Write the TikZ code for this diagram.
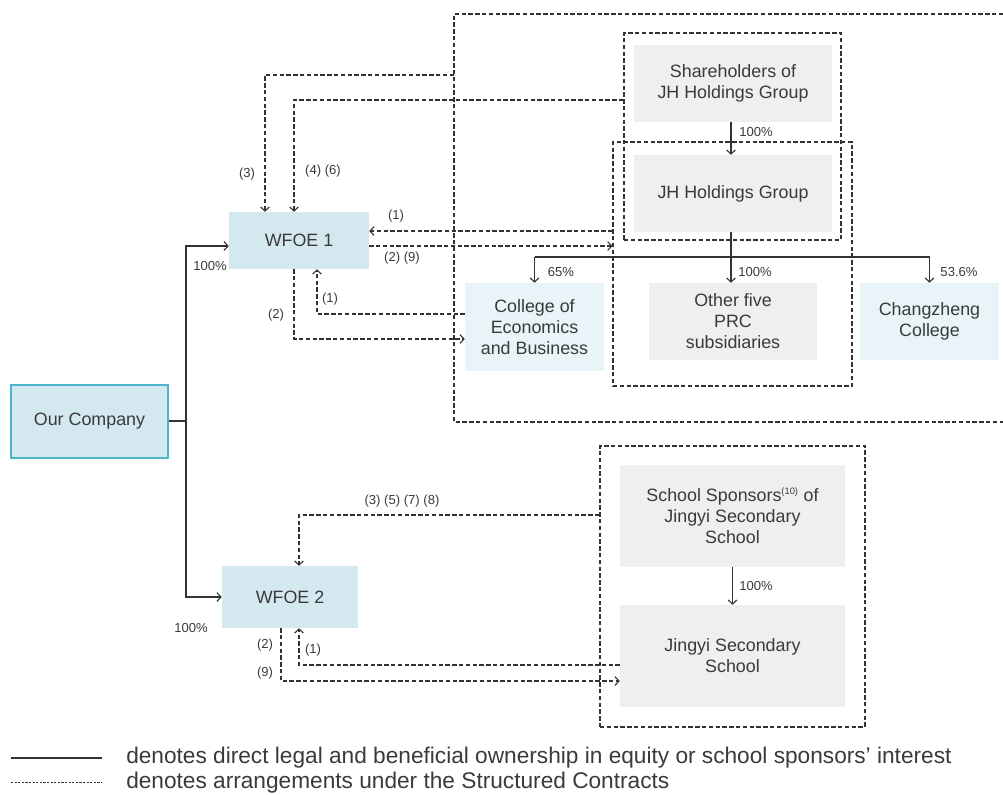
\documentclass[tikz,border=0pt]{standalone}
\usepackage{fontspec}
\setmainfont{Liberation Sans}
\usetikzlibrary{arrows.meta}
\definecolor{txt}{HTML}{3A3A3A}
\definecolor{ln}{HTML}{333333}
\definecolor{blueA}{HTML}{D3E9EF}
\definecolor{blueB}{HTML}{E8F4F8}
\definecolor{greyA}{HTML}{EFEFEF}
\definecolor{edgeA}{HTML}{4DB5CD}
\tikzset{
  every node/.style={text=txt},
  boxtext/.style={font=\fontsize{13.4}{15.8}\selectfont, align=center, inner sep=0pt, draw=none},
  wfoebox/.style={boxtext, fill=blueA},
  lightbox/.style={boxtext, fill=blueB},
  greybox/.style={boxtext, fill=greyA},
  dashbox/.style={draw=ln, line width=0.85pt, dash pattern=on 3.3pt off 1.8pt, inner sep=0pt, fill=none},
  own/.style={draw=ln, line width=0.85pt},
  ctr/.style={draw=ln, line width=0.85pt, dash pattern=on 3.3pt off 1.8pt},
  arr/.style={-{Straight Barb[length=3pt,width=6.5pt,line width=0.85pt]}},
  lbl/.style={font=\fontsize{9.8}{11}\selectfont, inner sep=0pt},
  legtext/.style={font=\fontsize{17}{20}\selectfont, anchor=west, inner sep=0pt},
}
\begin{document}
\begin{tikzpicture}[x=0.75pt,y=-0.75pt]
\useasboundingbox (0,0) rectangle (1003,794);

% dashed group boxes
\node[dashbox, minimum width=162.75pt, minimum height=155.25pt] (upperbox) at (732.5,136.5) {};
\node[dashbox, minimum width=179.25pt, minimum height=183pt] (lowerbox) at (732.5,264) {};
\node[dashbox, minimum width=198.75pt, minimum height=210.75pt] (schoolbox) at (732.5,586.5) {};
\draw[ctr] (1010,14) -- (454,14) -- (454,422) -- (1010,422);
\coordinate (bigL) at (454,75);

% boxes
\node[wfoebox, draw=edgeA, line width=0.9pt, minimum width=117.75pt, minimum height=54.75pt] (our) at (89.5,421.5) {Our Company};
\node[wfoebox, minimum width=105pt, minimum height=42.75pt] (wfoe1) at (299,240.5) {WFOE 1};
\node[wfoebox, minimum width=102pt, minimum height=46.5pt] (wfoe2) at (290,597) {WFOE 2};
\node[greybox, minimum width=148.5pt, minimum height=57.75pt] (share) at (733,83.5) {Shareholders of\\JH Holdings Group};
\node[greybox, minimum width=148.5pt, minimum height=57.75pt] (jh) at (733,193.5) {JH Holdings Group};
\node[greybox, minimum width=126pt, minimum height=57.75pt] (other) at (733,321.5) {Other five\\PRC\\subsidiaries};
\node[lightbox, minimum width=104.25pt, minimum height=57.75pt] (chang) at (929.5,321.5) {Changzheng\\College};
\node[lightbox, minimum width=104.25pt, minimum height=66pt] (college) at (534.5,327) {College of\\Economics\\and Business};
\node[greybox, minimum width=168.75pt, minimum height=76.5pt] (sponsor) at (732.5,516) {School Sponsors\textsuperscript{\fontsize{7}{8}\selectfont(10)} of\\Jingyi Secondary\\School};
\node[greybox, minimum width=168.75pt, minimum height=76.5pt] (jingyi) at (732.5,656) {Jingyi Secondary\\School};

% ownership lines
\coordinate (tm) at (186,421);
\coordinate (t1) at (186,246);
\coordinate (t2) at (186,597);
\draw[own] (our.east |- tm) -- (tm);
\draw[own, arr] (tm) -- (t1) -- (t1 -| wfoe1.west);
\draw[own, arr] (tm) -- (t2) -- (t2 -| wfoe2.west);
\node[lbl] (p1) at (210,266) {100\%};
\node[lbl] (p2) at (191,628) {100\%};

\coordinate (jx) at (731,0);
\coordinate (bar) at (0,257);
\draw[own, arr] (share.south -| jx) -- (jh.north -| jx);
\node[lbl] (p3) at (756,132) {100\%};
\draw[own] (jh.south -| jx) -- (jx |- bar);
\draw[own] (college.north |- bar) -- (chang.north |- bar);
\draw[own, arr] (college.north |- bar) -- (college.north);
\draw[own, arr] (jx |- bar) -- (other.north -| jx);
\draw[own, arr] (chang.north |- bar) -- (chang.north);
\node[lbl] (p4) at (561,272) {65\%};
\node[lbl] (p5) at (755,272) {100\%};
\node[lbl] (p6) at (959,272) {53.6\%};

\coordinate (sx) at (732.5,0);
\draw[own, arr] (sponsor.south -| sx) -- (jingyi.north -| sx);
\node[lbl] (p7) at (756,586) {100\%};

% structured contracts, WFOE 1
\coordinate (a3) at (265,75);
\draw[ctr, arr] (bigL) -- (a3) -- (a3 |- wfoe1.north);
\node[lbl] (l3) at (247,174) {(3)};
\coordinate (a46) at (294,100);
\draw[ctr, arr] (upperbox.west |- a46) -- (a46) -- (a46 |- wfoe1.north);
\node[lbl] (l46) at (323,171) {(4) (6)};
\coordinate (y231) at (0,231);
\coordinate (y246) at (0,246);
\draw[ctr, arr] (lowerbox.west |- y231) -- (wfoe1.east |- y231);
\node[lbl] (l1a) at (396,216) {(1)};
\draw[ctr, arr] (wfoe1.east |- y246) -- (lowerbox.west |- y246);
\node[lbl] (l29a) at (402,258) {(2) (9)};
\coordinate (b1) at (317,314);
\draw[ctr, arr] (college.west |- b1) -- (b1) -- (b1 |- wfoe1.south);
\node[lbl] (l1b) at (330,299) {(1)};
\coordinate (b2) at (294,339);
\draw[ctr, arr] (b2 |- wfoe1.south) -- (b2) -- (college.west |- b2);
\node[lbl] (l2b) at (276,315) {(2)};

% structured contracts, WFOE 2
\coordinate (d1) at (299,515);
\draw[ctr, arr] (schoolbox.west |- d1) -- (d1) -- (d1 |- wfoe2.north);
\node[lbl] (l3578) at (402,501) {(3) (5) (7) (8)};
\coordinate (d2) at (299,665);
\draw[ctr, arr] (jingyi.west |- d2) -- (d2) -- (d2 |- wfoe2.south);
\node[lbl] (l1c) at (313,650) {(1)};
\coordinate (d3) at (281,681);
\draw[ctr, arr] (d3 |- wfoe2.south) -- (d3) -- (jingyi.west |- d3);
\node[lbl] (l2c) at (265,645) {(2)};
\node[lbl] (l9c) at (265,673) {(9)};

% legend
\coordinate (lg1a) at (11,758);
\coordinate (lg1b) at (102,758);
\coordinate (lg2a) at (11,782);
\coordinate (lg2b) at (102,782);
\draw[own] (lg1a) -- (lg1b);
\draw[draw=ln, line width=0.75pt, dash pattern=on 1.6pt off 1.1pt] (lg2a) -- (lg2b);
\node[legtext] (leg1) at (126,758) {denotes direct legal and beneficial ownership in equity or school sponsors’ interest};
\node[legtext] (leg2) at (126,783) {denotes arrangements under the Structured Contracts};
\end{tikzpicture}
\end{document}
